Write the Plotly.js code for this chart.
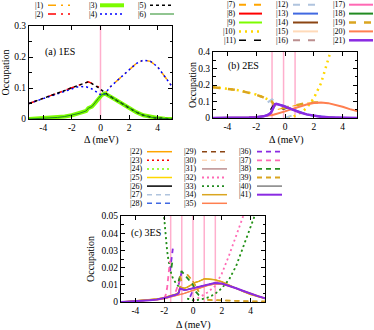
<!DOCTYPE html>
<html><head><meta charset="utf-8">
<script src="https://cdn.plot.ly/plotly-3.0.1.min.js"></script>
<style>html,body{margin:0;padding:0;background:#fff}#c{width:374px;height:330px}</style>
</head><body><div id="c"></div>
<script>
// ---------------- data ----------------
const xTickVals=[-4,-2,0,2,4];
const xTickText=['-4','-2','0','2','4'];
const resA=[0];
const resB=[-0.9,-0.1,0.7];
const resC=[-1.55,-0.78,0,0.78,1.55];

// panel (a) 1ES
const xA=[-5,-4.5,-4,-3.5,-3,-2.5,-2,-1.5,-1,-0.85,-0.6,-0.4,-0.15,0,0.1,0.3,0.5,0.7,1,1.5,2,2.5,3,3.5,4,4.5,5];
const yA1=[null,null,null,null,null,null,null,null,null,null,null,null,null,0.079,0.077,0.082,0.094,0.104,0.117,0.138,0.160,0.179,0.190,0.186,0.168,0.138,0.105];
const yA2=[0.050,0.058,0.066,0.075,0.083,0.092,0.101,0.110,0.117,0.120,0.115,0.110,0.104,0.100,null,null,null,null,null,null,null,null,null,null,null,null,null];
const yA3=[0.000,0.001,0.002,0.003,0.005,0.008,0.012,0.018,0.026,0.035,0.040,0.050,0.066,0.074,0.078,0.082,0.078,0.072,0.064,0.050,0.035,0.022,0.012,0.006,0.003,0.001,0.000];
const yA4=[0.050,0.058,0.066,0.075,0.083,0.091,0.099,0.105,0.104,0.102,0.097,0.091,0.082,0.077,0.076,0.082,0.094,0.104,0.117,0.138,0.160,0.179,0.190,0.186,0.168,0.138,0.105];
const yA5=[0.050,0.058,0.066,0.075,0.083,0.092,0.101,0.110,0.117,0.120,0.114,0.109,0.101,0.096,0.092,0.085,0.078,0.072,0.064,0.050,0.035,0.022,0.012,0.006,0.003,0.001,0.000];
const yA6=yA3; // coincides with |3)

// panel (b) 2ES
const xB=[-5,-4.5,-4,-3.5,-3,-2.5,-2,-1.5,-1.2,-1,-0.9,-0.8,-0.7,-0.6,-0.5,-0.3,-0.1,0,0.2,0.4,0.6,0.8,1,1.5,2,2.5,3,3.5,4,4.5,5];
const yB7=[null,null,null,null,null,null,null,null,null,null,null,null,null,null,0.052,0.055,0.060,0.063,0.067,0.070,0.074,0.078,0.082,0.090,0.094,null,null,null,null,null,null];
const yB10=[0.188,0.184,0.179,0.172,0.164,0.154,0.142,0.126,0.114,0.105,null,null,null,null,null,null,null,null,0.000,0.003,0.010,0.018,0.027,0.060,0.120,0.210,0.350,0.500,null,null,null];
const yB11=[null,null,null,null,null,null,null,null,null,0.050,0.065,0.078,0.080,0.075,0.068,0.058,0.055,0.056,0.062,0.068,0.072,null,null,null,null,null,null,null,null,null,null];
const yB12=[null,null,null,null,null,null,null,null,0.095,0.108,0.113,0.105,0.092,0.082,null,null,null,0.000,0.005,0.012,0.019,null,null,null,null,null,null,null,null,null,null];
const yB13=[0.000,0.000,0.001,0.001,0.002,0.003,0.005,0.010,0.018,0.030,0.045,0.068,0.080,0.084,0.083,0.079,0.074,0.072,0.064,0.056,0.049,0.042,0.036,0.022,0.013,0.007,0.004,0.002,0.001,0.000,0.000];
const yB19=[0.186,0.182,0.177,0.171,0.163,0.153,0.141,0.125,0.113,0.104,0.098,0.085,0.070,0.058,0.052,0.055,0.060,0.063,0.067,0.070,0.074,0.078,0.082,0.090,0.094,0.095,null,null,null,null,null];
const yB20=[0.000,0.000,0.001,0.001,0.002,0.003,0.005,0.009,0.013,0.016,0.018,0.020,0.022,0.024,0.026,0.031,0.037,0.040,0.046,0.052,0.058,0.064,0.070,0.082,0.091,0.094,0.090,0.081,0.068,0.054,0.042];
const yB21=[0.000,0.000,0.001,0.001,0.002,0.003,0.005,0.010,0.018,0.030,0.045,0.070,0.083,0.086,0.084,0.078,0.072,0.069,0.062,0.055,0.048,0.041,0.035,0.022,0.013,0.007,0.004,0.002,0.001,0.000,0.000];
// states hidden beneath others
const yB8=yB21, yB9=yB21, yB14=yB21, yB16=yB21, yB17=yB21, yB18=yB21, yB15=yB20;

// panel (c) 3ES
const xC=[-5,-4.5,-4,-3.5,-3,-2.5,-2.1,-2,-1.9,-1.8,-1.7,-1.6,-1.5,-1.4,-1.2,-1,-0.9,-0.8,-0.6,-0.4,-0.2,0,0.2,0.4,0.6,0.8,1,1.5,2,2.5,3,3.5,4,4.5,5];
const yC32=[null,null,null,null,null,null,null,null,null,null,null,null,null,null,null,null,null,null,null,null,null,0.0008,0.0015,0.0025,0.0035,0.0045,0.0055,0.0090,0.0165,0.0270,0.0370,0.0480,0.0600,0.0720,0.0850];
const yC33=[null,null,null,null,null,null,0.058,0.047,0.038,0.030,0.024,0.019,0.016,0.014,0.011,0.009,null,null,null,0.0020,0.0015,0.0010,0.0010,0.0012,0.0016,0.0020,0.0025,0.0045,0.0080,0.0130,0.0210,0.0320,0.0430,0.0550,0.0680];
const yC34=[0.0000,0.0003,0.0005,0.0008,0.0012,0.0018,0.0024,0.0026,0.0028,0.0030,0.0032,0.0034,0.0036,0.0038,0.0045,0.0055,0.0090,0.0085,0.0080,0.0086,0.0096,0.0110,0.0115,0.0120,0.0128,0.0135,0.0134,0.0130,0.0118,0.0098,0.0078,0.0060,0.0044,0.0030,0.0020];
const yC35=[0.0000,0.0002,0.0004,0.0006,0.0008,0.0013,0.0018,0.0020,0.0022,0.0024,0.0026,0.0028,0.0030,0.0032,0.0035,0.0040,0.0042,0.0045,0.0050,0.0056,0.0062,0.0068,0.0074,0.0080,0.0086,0.0090,0.0096,0.0105,0.0104,0.0093,0.0078,0.0062,0.0047,0.0033,0.0021];
const yC36=[null,null,null,null,null,null,null,null,null,null,null,0.018,0.026,0.031,null,0.010,0.014,0.017,null,null,0.003,0.007,null,null,null,null,null,null,null,null,null,null,null,null,null];
const yC37=[null,null,null,null,null,null,null,0.002,0.004,0.008,0.015,0.024,null,null,0.006,0.011,0.016,null,null,null,null,null,null,null,null,null,null,null,null,null,null,null,null,null,null];
const yC38=[null,null,null,null,null,null,null,null,null,null,null,null,0.020,0.025,null,0.012,0.015,0.018,0.016,0.014,0.012,0.010,0.006,0.004,0.003,null,null,null,null,null,null,null,null,null,null];
const yC39=[null,null,null,null,null,null,null,null,null,null,null,null,null,null,null,null,0.015,0.012,null,0.016,0.014,0.012,0.009,0.006,null,null,0.0012,0.0010,0.0008,0.0007,0.0006,0.0005,0.0004,0.0004,0.0003];
const yC41=[0.0000,0.0002,0.0004,0.0006,0.0010,0.0015,0.0020,0.0022,0.0024,0.0027,0.0030,0.0034,0.0036,0.0038,0.0042,0.0050,0.0078,0.0075,0.0070,0.0072,0.0076,0.0080,0.0085,0.0088,0.0092,0.0097,0.0102,0.0110,0.0107,0.0095,0.0080,0.0064,0.0048,0.0034,0.0022];
// states hidden beneath others
const yC22=yC34, yC25=yC34, yC23=yC41, yC26=yC41, yC27=yC41, yC28=yC41, yC40=yC41, yC24=yC33, yC29=yC39, yC30=yC35, yC31=yC35;

// ---------------- styles ----------------
const W=374,H=330;
const FONT="'Liberation Serif', serif";
const DA='8px,5px,2px,5px', DB='7px,8px', DC='5px,4px', DOT='2px,3px';
const specA=[
 {n:'|1)',y:yA1,c:'#ffa500',d:DA,w:1.5},
 {n:'|2)',y:yA2,c:'#ff0000',d:DA,w:1.5},
 {n:'|3)',y:yA3,c:'#7cfc00',d:'solid',w:4},
 {n:'|4)',y:yA4,c:'#0000ff',d:DOT,w:1.5},
 {n:'|5)',y:yA5,c:'#000000',d:'3px,3px',w:1.5},
 {n:'|6)',y:yA6,c:'#228b22',d:'solid',w:1},
];
const specB=[
 {n:'|7)',y:yB7,c:'#ffa500',d:DB,w:2,h:1},
 {n:'|8)',y:yB8,c:'#ff0000',d:'solid',w:2,h:1},
 {n:'|9)',y:yB9,c:'#7cfc00',d:'solid',w:2,h:1},
 {n:'|10)',y:yB10,c:'#ffd700',d:'2px,4px',w:2.5},
 {n:'|11)',y:yB11,c:'#000000',d:DB,w:1.5},
 {n:'|12)',y:yB12,c:'#b0c4de',d:DB,w:2},
 {n:'|13)',y:yB13,c:'#4169e1',d:'solid',w:2},
 {n:'|14)',y:yB14,c:'#8b4513',d:'solid',w:2,h:1},
 {n:'|15)',y:yB15,c:'#ffdab9',d:'solid',w:2,h:1},
 {n:'|16)',y:yB16,c:'#bc8f8f',d:DB,w:2,h:1},
 {n:'|17)',y:yB17,c:'#ff69b4',d:'solid',w:2,h:1},
 {n:'|18)',y:yB18,c:'#228b22',d:'solid',w:2,h:1},
 {n:'|19)',y:yB19,c:'#daa520',d:DB,w:2.5},
 {n:'|20)',y:yB20,c:'#ff7f50',d:'solid',w:2},
 {n:'|21)',y:yB21,c:'#8a2be2',d:'solid',w:2.5},
];
const specC=[
 {n:'|22)',y:yC22,c:'#ffa500',d:'solid',w:1.5,h:1},
 {n:'|23)',y:yC23,c:'#ff0000',d:DOT,w:1.5,h:1},
 {n:'|24)',y:yC24,c:'#7cfc00',d:DOT,w:1.5,h:1},
 {n:'|25)',y:yC25,c:'#ffd700',d:'solid',w:1.5,h:1},
 {n:'|26)',y:yC26,c:'#000000',d:'solid',w:1.5,h:1},
 {n:'|27)',y:yC27,c:'#b0c4de',d:DC,w:1.5,h:1},
 {n:'|28)',y:yC28,c:'#4169e1',d:DC,w:1.5,h:1},
 {n:'|29)',y:yC29,c:'#8b4513',d:DC,w:1.5,h:1},
 {n:'|30)',y:yC30,c:'#ffdab9',d:DC,w:1.5,h:1},
 {n:'|31)',y:yC31,c:'#bc8f8f',d:'solid',w:1.5,h:1},
 {n:'|32)',y:yC32,c:'#ff69b4',d:DOT,w:1.8},
 {n:'|33)',y:yC33,c:'#228b22',d:DOT,w:1.8},
 {n:'|34)',y:yC34,c:'#daa520',d:'solid',w:1.5},
 {n:'|35)',y:yC35,c:'#ff7f50',d:'solid',w:1.5},
 {n:'|36)',y:yC36,c:'#8a2be2',d:DC,w:1.8},
 {n:'|37)',y:yC37,c:'#ff69b4',d:DC,w:1.8},
 {n:'|38)',y:yC38,c:'#228b22',d:DC,w:1.8},
 {n:'|39)',y:yC39,c:'#daa520',d:DC,w:1.8},
 {n:'|40)',y:yC40,c:'#808080',d:'solid',w:1.5,h:1},
 {n:'|41)',y:yC41,c:'#8a2be2',d:'solid',w:2},
];

function px(x){return x/W;}
function py(y){return 1-y/H;}

const panels=[
 {ax:'',x:xA,spec:specA,res:resA,xd:[29,172],yd:[26,119],yr:[0,0.3],dt:0.1,mdt:0.05,
  lab:'(a) 1ES',labXY:[43,52],occX:5,dX:[101,140],
  leg:{tr:[45,99,148],l:[[48,70],[100,124],[150,174]],y0:5.3,dy:8.7,per:2}},
 {ax:'2',x:xB,spec:specB,res:resB,xd:[213,357],yd:[52,118],yr:[0,0.4],dt:0.1,mdt:0.05,
  lab:'(b) 2ES',labXY:[226,66],occX:192,dX:[286,140],
  leg:{tr:[236.5,290,346.5],l:[[239,262],[293,318],[349,373]],y0:4.7,dy:8.9,per:5}},
 {ax:'3',x:xC,spec:specC,res:resC,xd:[121,265],yd:[216,302],yr:[0,0.05],dt:0.01,mdt:0.005,
  lab:'(c) 3ES',labXY:[129,233],occX:90,dX:[193,325],
  leg:{tr:[144,198,253],l:[[147,172],[202,227],[257,282]],y0:151.7,dy:8.6,per:7}},
];

const traces=[], shapes=[], annotations=[];
const layout={width:W,height:H,margin:{l:0,r:0,t:0,b:0},paper_bgcolor:'#fff',plot_bgcolor:'#fff',
  showlegend:false,font:{family:FONT,size:9,color:'#000'}};

panels.forEach(p=>{
  const xa='xaxis'+p.ax, ya='yaxis'+p.ax;
  layout[xa]={domain:[px(p.xd[0]),px(p.xd[1])],anchor:'y'+p.ax,range:[-5,5],
    tickvals:xTickVals,ticktext:xTickText,ticks:'inside',ticklen:4,tickcolor:'#000',
    mirror:'ticks',showline:true,linecolor:'#000',linewidth:1,showgrid:false,zeroline:false,
    tickfont:{family:FONT,size:9.5,color:'#000'}};
  layout[ya]={domain:[py(p.yd[1]),py(p.yd[0])],anchor:'x'+p.ax,range:p.yr,tick0:0,dtick:p.dt,
    ticks:'inside',ticklen:4,tickcolor:'#000',mirror:'ticks',showline:true,linecolor:'#000',linewidth:1,
    showgrid:false,zeroline:false,tickfont:{family:FONT,size:9.5,color:'#000'},
    minor:{dtick:p.mdt,ticks:'inside',ticklen:2.5,tickcolor:'#000',showgrid:false}};
  p.res.forEach(v=>shapes.push({type:'line',xref:'x'+p.ax,yref:'y'+p.ax+' domain',x0:v,x1:v,y0:0,y1:1,
    line:{color:'rgb(255,175,205)',width:1.5},layer:'below'}));
  p.spec.forEach((s,i)=>{
    traces.push({type:'scatter',mode:'lines',x:p.x,y:s.y,xaxis:'x'+p.ax,yaxis:'y'+p.ax,
      line:{color:s.c,dash:s.d,width:s.h?1:s.w},hoverinfo:'skip',connectgaps:false});
    const col=Math.floor(i/p.leg.per), row=i%p.leg.per;
    const yy=p.leg.y0+row*p.leg.dy;
    shapes.push({type:'line',xref:'paper',yref:'paper',x0:px(p.leg.l[col][0]),x1:px(p.leg.l[col][1]),
      y0:py(yy),y1:py(yy),line:{color:s.c,dash:s.d,width:s.w}});
    annotations.push({xref:'paper',yref:'paper',x:px(p.leg.tr[col]),y:py(yy),xanchor:'right',yanchor:'middle',
      text:s.n,showarrow:false,borderpad:0,font:{family:FONT,size:8,color:'#000'}});
  });
  annotations.push({xref:'paper',yref:'paper',x:px(p.labXY[0]),y:py(p.labXY[1]),xanchor:'left',yanchor:'middle',
    text:p.lab,showarrow:false,font:{family:FONT,size:10,color:'#000'}});
  annotations.push({xref:'paper',yref:'paper',x:px(p.occX),y:py((p.yd[0]+p.yd[1])/2),xanchor:'center',yanchor:'middle',
    text:'Occupation',textangle:-90,showarrow:false,font:{family:FONT,size:10,color:'#000'}});
  annotations.push({xref:'paper',yref:'paper',x:px(p.dX[0]),y:py(p.dX[1]),xanchor:'center',yanchor:'middle',
    text:'Δ (meV)',showarrow:false,font:{family:FONT,size:10,color:'#000'}});
});
layout.shapes=shapes; layout.annotations=annotations;
Plotly.newPlot('c',traces,layout,{staticPlot:true,displayModeBar:false});
</script></body></html>
